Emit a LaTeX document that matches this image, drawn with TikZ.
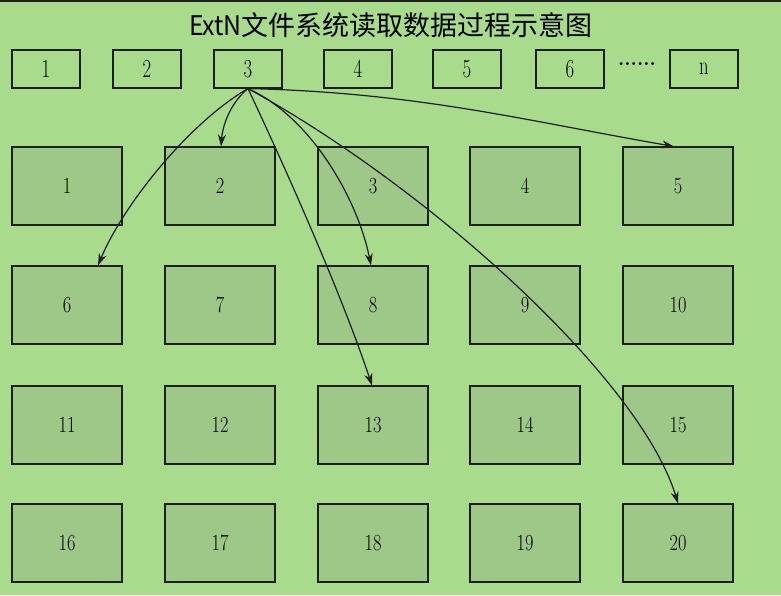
\documentclass[tikz,border=0pt]{standalone}
\usepackage{fontspec}
\usepackage{graphicx}
\newfontfamily\cjk{Noto Sans CJK SC}
\usetikzlibrary{arrows.meta,calc}
\definecolor{bggreen}{RGB}{168,220,140}
\definecolor{boxgreen}{RGB}{158,200,135}
\definecolor{inkc}{RGB}{30,30,30}
\newcommand{\narrowdig}[1]{\scalebox{0.72}[1]{#1}}
\tikzset{
  topbox/.style={draw=inkc,line width=1.1pt,minimum width=68pt,minimum height=38pt,inner sep=0pt,font=\fontsize{26}{26}\selectfont},
  bigbox/.style={draw=inkc,fill=boxgreen,line width=1.1pt,minimum width=110pt,minimum height=78pt,inner sep=0pt,font=\fontsize{23}{23}\selectfont},
  arr/.style={draw=inkc,line width=1.2pt,-{Stealth[length=12pt,width=8pt]}}
}
\begin{document}
\begin{tikzpicture}[x=1pt,y=-1pt]
\fill[bggreen] (0,0) rectangle (781,595);
\useasboundingbox (0,0) rectangle (781,595);
\draw[inkc,line width=1.5pt] (0,0.75) -- (781,0.75);
\node[font=\cjk\fontsize{27}{27}\selectfont] (title) at (391,25) {\scalebox{0.92}[1]{ExtN}文件系统读取数据过程示意图};
% top row
\node[topbox] (t1) at (46,69) {\narrowdig{1}};
\node[topbox] (t2) at (147,69) {\narrowdig{2}};
\node[topbox] (t3) at (248,69) {\narrowdig{3}};
\node[topbox] (t4) at (358,69) {\narrowdig{4}};
\node[topbox] (t5) at (467,69) {\narrowdig{5}};
\node[topbox] (t6) at (570,69) {\narrowdig{6}};
\node[font=\fontsize{20}{20}\bfseries] (dots) at (637,64) {......};
\node[topbox] (tn) at (704,69) {\narrowdig{n}};
% grid
\foreach \r/\y in {0/186,1/305,2/425,3/543}{
  \foreach \c/\x in {1/67,2/220,3/373,4/525,5/678}{
    \pgfmathtruncatemacro{\k}{\r*5+\c}
    \node[bigbox] (b\k) at (\x,\y) {\scalebox{0.8}[1]{\k}};
  }
}
% arrows
\draw[arr] (t3.south) .. controls +(-15,12) and ($(b2.north)+(3,-25)$) .. ([xshift=1pt]b2.north);
\draw[arr] (t3.south) .. controls +(-60,35) and ($(b6.north)+(56,-60)$) .. ([xshift=31pt]b6.north);
\draw[arr] (t3.south) .. controls +(64,29) and ($(b8.north)+(-15,-65)$) .. ([xshift=-2pt]b8.north);
\draw[arr] (t3.south) .. controls +(40,85) and ($(b13.north)+(-31,-90)$) .. ([xshift=-1pt]b13.north);
\draw[arr] (t3.south) .. controls +(184,101) and ($(b20.north)+(-37,-123)$) .. (b20.north);
\draw[arr] (t3.south) .. controls +(170,4) and ($(b5.north)+(-154,-26)$) .. ([xshift=-4pt]b5.north);
\end{tikzpicture}
\end{document}
